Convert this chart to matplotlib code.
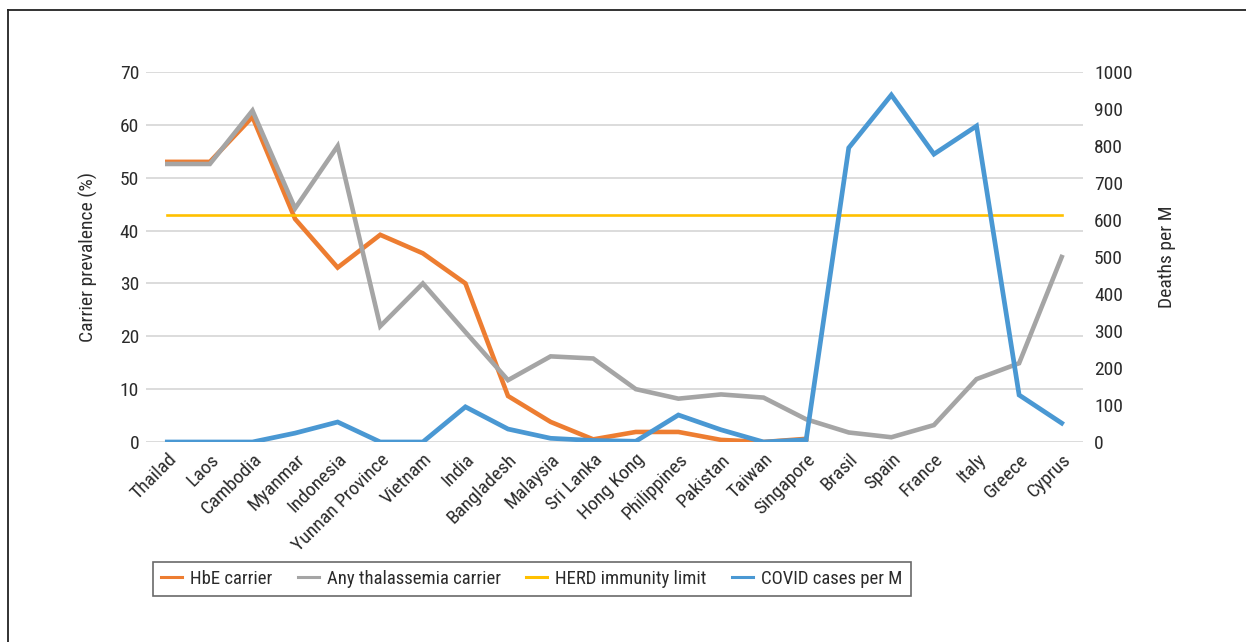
import matplotlib
matplotlib.use("Agg")
import matplotlib.pyplot as plt
from matplotlib.lines import Line2D
from matplotlib import font_manager

# pick a narrow sans face if one is installed
_fams = {f.name for f in font_manager.fontManager.ttflist}
FONT_KW = {}
for fam in ["Liberation Sans Narrow", "Roboto Condensed", "Open Sans Condensed",
            "Noto Sans Condensed", "DejaVu Sans Condensed"]:
    if fam in _fams:
        FONT_KW = {"family": fam}
        break
else:
    cond = [f for f in font_manager.fontManager.ttflist
            if str(f.stretch) in ("condensed", "semi-condensed", "extra-condensed", "75", "87")
            and f.style == "normal"]
    if cond:
        FONT_KW = {"family": cond[0].name, "stretch": cond[0].stretch}
    else:
        FONT_KW = {"family": "DejaVu Sans"}

plt.rcParams['font.family'] = [FONT_KW["family"], 'DejaVu Sans']
if "stretch" in FONT_KW:
    plt.rcParams['font.stretch'] = FONT_KW["stretch"]

countries = ["Thailad", "Laos", "Cambodia", "Myanmar", "Indonesia", "Yunnan Province",
             "Vietnam", "India", "Bangladesh", "Malaysia", "Sri Lanka", "Hong Kong",
             "Philippines", "Pakistan", "Taiwan", "Singapore", "Brasil", "Spain",
             "France", "Italy", "Greece", "Cyprus"]

hbe_carrier = [53, 53, 61.5, 42.2, 33, 39.2, 35.7, 30, 8.7, 3.8, 0.5, 1.9,
               1.9, 0.4, 0, 0.6]
thal_carrier = [52.6, 52.6, 62.7, 44.2, 56, 21.9, 30, 20.8, 11.7, 16.2, 15.8, 10,
                8.2, 9, 8.4, 4.3, 1.8, 0.9, 3.2, 11.9, 14.9, 35]
herd_limit = [43] * len(countries)
covid_per_m = [0, 0, 0, 24, 54, 0, 0, 95, 35, 10, 4, 2,
               73, 33, 0, 6, 795, 938, 778, 854, 127, 51]

C_ORANGE = "#ED7D31"
C_GRAY = "#A5A5A5"
C_YELLOW = "#FFC000"
C_BLUE = "#4A98D3"
TXT = "#2B2B2B"
FS = 14

W, H = 1246, 642
fig = plt.figure(figsize=(W / 100, H / 100), dpi=100)
ax = fig.add_axes([146 / W, 1 - 442 / H, (1083 - 146) / W, (442 - 72) / H])
ax2 = ax.twinx()

x = list(range(len(countries)))
ax.plot(x[:len(hbe_carrier)], hbe_carrier, color=C_ORANGE, lw=3.3,
        solid_joinstyle="miter", zorder=3)
ax.plot(x, thal_carrier, color=C_GRAY, lw=3.3, solid_joinstyle="miter", zorder=4)
ax.plot(x, herd_limit, color=C_YELLOW, lw=1.9, zorder=5)
ax2.plot(x, covid_per_m, color=C_BLUE, lw=3.4, solid_joinstyle="miter", zorder=6)

ax.set_xlim(-0.5, len(countries) - 0.5)
ax.set_ylim(0, 70)
ax.set_yticks(range(0, 71, 10))
ax2.set_ylim(0, 1000)
ax2.set_yticks(range(0, 1001, 100))

ax.yaxis.grid(True, color="#D9D9D9", lw=1.3)
ax.set_axisbelow(True)
for a in (ax, ax2):
    for s in a.spines.values():
        s.set_visible(False)
    a.tick_params(length=0, labelsize=FS, labelcolor=TXT)
ax.tick_params(axis="y", pad=5)
ax2.tick_params(axis="y", pad=8)

ax.set_xticks(x)
ax.set_xticklabels(countries, rotation=45, ha="right", rotation_mode="anchor")
ax.tick_params(axis="x", pad=6)

fig.text(88 / W, 1 - 257 / H, "Carrier prevalence (%)", rotation=90,
         ha="center", va="center", fontsize=FS, color=TXT)
fig.text(1167 / W, 1 - 257 / H, "Deaths per M", rotation=90,
         ha="center", va="center", fontsize=FS, color=TXT)

handles = [Line2D([], [], color=C_ORANGE, lw=2.2),
           Line2D([], [], color=C_GRAY, lw=2.2),
           Line2D([], [], color=C_YELLOW, lw=2.2),
           Line2D([], [], color=C_BLUE, lw=2.2)]
labels = ["HbE carrier", "Any thalassemia carrier", "HERD immunity limit",
          "COVID cases per M"]
leg = fig.legend(handles, labels, loc="center", ncol=4,
                 bbox_to_anchor=((150 + 914) / 2 / W, 1 - 579 / H),
                 frameon=True, fancybox=False, fontsize=13.5,
                 handlelength=1.1, handletextpad=0.45, columnspacing=1.35,
                 borderpad=0.45)
leg.get_frame().set_edgecolor("#444444")
leg.get_frame().set_linewidth(1.2)
for t in leg.get_texts():
    t.set_color(TXT)

# partial frame: top and left edges
fig.add_artist(Line2D([8 / W, 1], [1 - 10 / H, 1 - 10 / H], color="#222222", lw=1.3,
                      transform=fig.transFigure))
fig.add_artist(Line2D([8 / W, 8 / W], [0, 1 - 10 / H], color="#222222", lw=1.3,
                      transform=fig.transFigure))

fig.savefig("out.png", dpi=100)
